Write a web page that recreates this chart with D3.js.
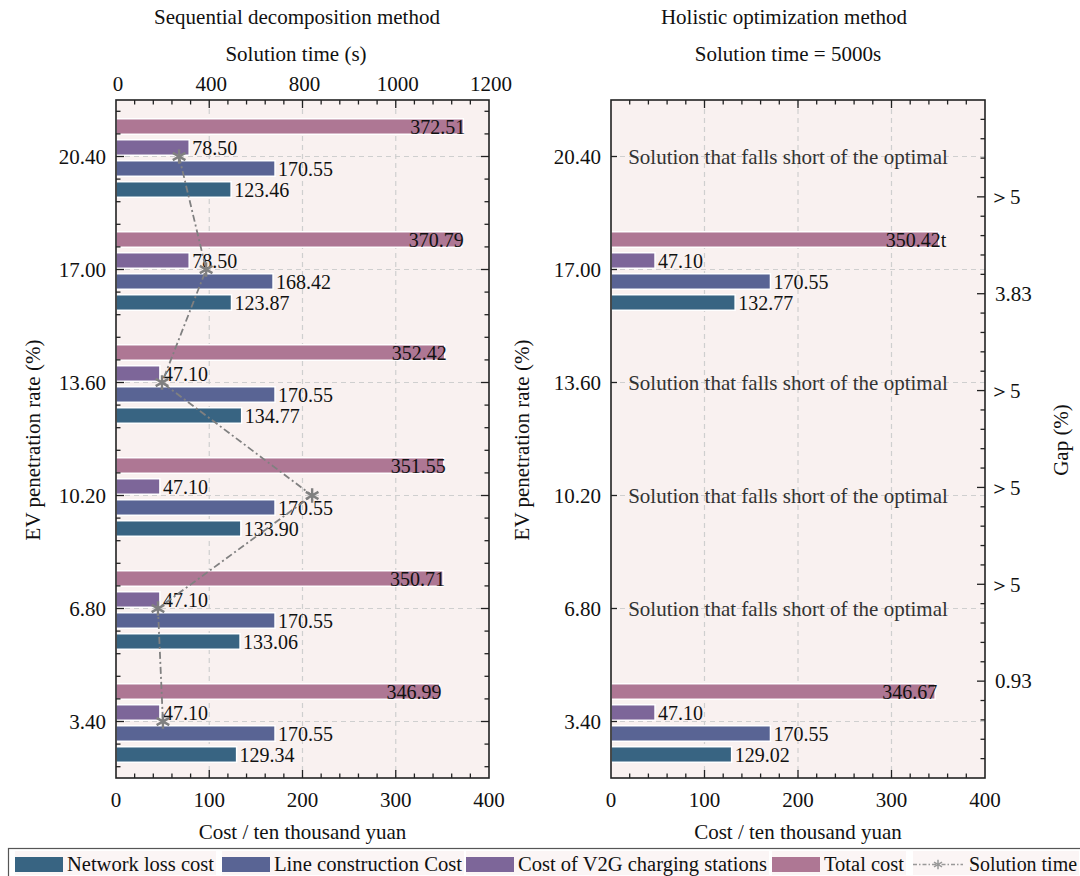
<!DOCTYPE html>
<html>
<head>
<meta charset="utf-8">
<script src="https://cdn.jsdelivr.net/npm/d3@7"></script>
<style>
  body { margin: 0; background: #fff; }
  svg { display: block; font-family: "Liberation Serif", "Times New Roman", serif; }
</style>
</head>
<body>
<svg id="chart" width="1080" height="876"></svg>
<script>
// EV penetration rate categories (top to bottom)
const categories = ["20.40", "17.00", "13.60", "10.20", "6.80", "3.40"];
const series = ["Total cost", "Cost of V2G charging stations", "Line construction Cost", "Network loss cost"];
const seriesColors = ["#ae7794", "#7d6699", "#596494", "#386482"];

// Sequential decomposition method (cost / ten thousand yuan)
const seqTotal   = [372.51, 370.79, 352.42, 351.55, 350.71, 346.99];
const seqV2G     = [78.50, 78.50, 47.10, 47.10, 47.10, 47.10];
const seqLine    = [170.55, 168.42, 170.55, 170.55, 170.55, 170.55];
const seqNetwork = [123.46, 123.87, 134.77, 133.90, 133.06, 129.34];
// Sequential decomposition solution time (s)
const seqTime    = [203, 290, 148, 631, 135, 151];

// Holistic optimization method: only two penetration rates reach a solution
const holCategories = ["17.00", "3.40"];
const holTotal   = [350.42, 346.67];
const holTotalSuffix = ["t", ""];
const holV2G     = [47.10, 47.10];
const holLine    = [170.55, 170.55];
const holNetwork = [132.77, 129.02];
const holShortCategories = ["20.40", "13.60", "10.20", "6.80"];
const holShortText = "Solution that falls short of the optimal";

// Gap axis (right panel)
const gapTickValues = [1, 2, 3, 4, 5, 6];
const gapTickLabels = ["0.93", "＞5", "＞5", "＞5", "3.83", "＞5"];

// Axis ticks
const costTicks = [0, 100, 200, 300, 400];
const timeTickValues = [0, 300, 600, 900, 1200];
const timeTickLabels = ["0", "400", "800", "1000", "1200"];

const svg = d3.select("#chart");
const plotTop = 100, plotBottom = 778;
const panels = [
  { x0: 116, x1: 489 },
  { x0: 611, x1: 985 }
];
const bg = "#f9f1f0", gridCol = "#cfcfcf", axisCol = "#222";

const y = d3.scaleBand().domain(categories).range([plotTop, plotBottom]).padding(0);
const yNum = d3.scaleLinear().domain([1.7, 22.1]).range([plotBottom, plotTop]);
const inner = d3.scaleBand().domain(series).range([16, 100]).paddingInner(0.26).paddingOuter(0.13);
const xL = d3.scaleLinear().domain([0, 400]).range([panels[0].x0, panels[0].x1]);
const xR = d3.scaleLinear().domain([0, 400]).range([panels[1].x0, panels[1].x1]);
const tScale = d3.scaleLinear().domain([0, 1200]).range([panels[0].x0, panels[0].x1]);
const gapScale = d3.scaleLinear().domain([0, 7]).range([plotBottom, plotTop]);

const cy = c => y(c) + y.bandwidth() / 2;
const minorCost = d3.range(0, 401, 20).filter(v => v % 100 !== 0);
const majorY = categories.map(Number);
const minorY = d3.range(2.04, 22.1, 0.68).filter(v => !majorY.some(m => Math.abs(m - v) < 0.01));

function panelBase(x) {
  const g = svg.append("g");
  g.append("rect").attr("x", x.range()[0]).attr("y", plotTop)
    .attr("width", x.range()[1] - x.range()[0]).attr("height", plotBottom - plotTop).attr("fill", bg);
  // grid
  g.selectAll(".gx").data([100, 200, 300]).join("line")
    .attr("x1", d => x(d)).attr("x2", d => x(d)).attr("y1", plotTop).attr("y2", plotBottom)
    .attr("stroke", gridCol).attr("stroke-width", 1.2).attr("stroke-dasharray", "5,4");
  g.selectAll(".gy").data(categories).join("line")
    .attr("x1", x.range()[0]).attr("x2", x.range()[1]).attr("y1", d => cy(d)).attr("y2", d => cy(d))
    .attr("stroke", gridCol).attr("stroke-width", 1.2).attr("stroke-dasharray", "5,4");
  return g;
}

function panelFrame(x, opts) {
  const g = svg.append("g");
  const [a, b] = x.range();
  // top and bottom ticks (inward)
  [[plotBottom, -1], [plotTop, 1]].forEach(([yy, dir]) => {
    g.selectAll(null).data([100, 200, 300]).join("line")
      .attr("x1", d => x(d)).attr("x2", d => x(d)).attr("y1", yy).attr("y2", yy + dir * 8)
      .attr("stroke", axisCol).attr("stroke-width", 1.3);
    g.selectAll(null).data(minorCost).join("line")
      .attr("x1", d => x(d)).attr("x2", d => x(d)).attr("y1", yy).attr("y2", yy + dir * 4.5)
      .attr("stroke", axisCol).attr("stroke-width", 1.3);
  });
  // left ticks
  g.selectAll(null).data(majorY).join("line")
    .attr("x1", a).attr("x2", a + (opts.leftMinor ? 8 : 6)).attr("y1", d => yNum(d)).attr("y2", d => yNum(d))
    .attr("stroke", axisCol).attr("stroke-width", 1.3);
  if (opts.leftMinor) {
    g.selectAll(null).data(minorY).join("line")
      .attr("x1", a).attr("x2", a + 4.5).attr("y1", d => yNum(d)).attr("y2", d => yNum(d))
      .attr("stroke", axisCol).attr("stroke-width", 1.3);
    // mirrored right ticks
    g.selectAll(null).data(majorY).join("line")
      .attr("x1", b).attr("x2", b - 8).attr("y1", d => yNum(d)).attr("y2", d => yNum(d))
      .attr("stroke", axisCol).attr("stroke-width", 1.3);
    g.selectAll(null).data(minorY).join("line")
      .attr("x1", b).attr("x2", b - 4.5).attr("y1", d => yNum(d)).attr("y2", d => yNum(d))
      .attr("stroke", axisCol).attr("stroke-width", 1.3);
  }
  g.append("rect").attr("x", a).attr("y", plotTop).attr("width", b - a).attr("height", plotBottom - plotTop)
    .attr("fill", "none").attr("stroke", axisCol).attr("stroke-width", 1.6);
  // left tick labels
  g.selectAll(null).data(categories).join("text")
    .attr("x", a - 10).attr("y", d => cy(d)).attr("dy", "0.35em").attr("text-anchor", "end")
    .attr("font-size", 21).attr("fill", "#111").text(d => d);
  // bottom tick labels
  g.selectAll(null).data(costTicks).join("text")
    .attr("x", d => x(d)).attr("y", 807).attr("text-anchor", "middle")
    .attr("font-size", 21).attr("fill", "#111").text(d => d);
  g.append("text").attr("x", (a + b) / 2).attr("y", 839).attr("text-anchor", "middle")
    .attr("font-size", 21).attr("fill", "#111").text("Cost / ten thousand yuan");
  g.append("text").attr("transform", `translate(${opts.yTitleX},440) rotate(-90)`)
    .attr("text-anchor", "middle").attr("font-size", 21).attr("fill", "#111")
    .text("EV penetration rate (%)");
  return g;
}

function drawBars(g, x, cats, cols) {
  const rows = cats.map((c, i) => ({ c, vals: cols.map(col => col[i]) }));
  const grp = g.selectAll(null).data(rows).join("g").attr("transform", d => `translate(0,${y(d.c)})`);
  grp.selectAll("rect").data(d => d.vals.map((v, k) => ({ v, k }))).join("rect")
    .attr("x", x(0)).attr("y", d => inner(series[d.k]))
    .attr("width", d => x(d.v) - x(0)).attr("height", inner.bandwidth())
    .attr("fill", d => seriesColors[d.k]).attr("stroke", "#fff").attr("stroke-width", 1.5);
  return grp;
}

function drawLabels(grp, x, suffixes) {
  grp.selectAll("text.val").data(d => d.vals.map((v, k) => ({ v, k }))).join("text")
    .attr("class", "val")
    .attr("x", d => d.k === 0 ? x(d.v) + 2 : x(d.v) + 3)
    .attr("y", d => inner(series[d.k]) + inner.bandwidth() / 2)
    .attr("dy", "0.36em")
    .attr("text-anchor", d => d.k === 0 ? "end" : "start")
    .attr("font-size", 20).attr("fill", "#111")
    .text(d => d.v.toFixed(2));
  if (suffixes) {
    grp.selectAll("text.suf").data((d, i) => [{ v: d.vals[0], s: suffixes[i] }]).join("text")
      .attr("class", "suf")
      .attr("x", d => x(d.v) + 2).attr("y", inner(series[0]) + inner.bandwidth() / 2)
      .attr("dy", "0.36em").attr("font-size", 20).attr("fill", "#111").text(d => d.s);
  }
}

// ---------- Left panel: sequential decomposition ----------
const gL = panelBase(xL);
const grpL = drawBars(gL, xL, categories, [seqTotal, seqV2G, seqLine, seqNetwork]);

const timePts = categories.map((c, i) => [tScale(seqTime[i]), cy(c)]);
gL.append("path").attr("d", d3.line()(timePts)).attr("fill", "none")
  .attr("stroke", "#808080").attr("stroke-width", 1.8).attr("stroke-dasharray", "7,3,2,3");

drawLabels(grpL, xL);

gL.selectAll(".mk").data(timePts).join("path")
  .attr("transform", d => `translate(${d[0]},${d[1]})`)
  .attr("d", d3.symbol(d3.symbolAsterisk, 150))
  .attr("fill", "none").attr("stroke", "#808080").attr("stroke-width", 2.4);

panelFrame(xL, { leftMinor: true, yTitleX: 40 });

// top time axis
const gT = svg.append("g");
gT.selectAll(null).data(timeTickValues).join("text")
  .attr("x", d => tScale(d) + 2).attr("y", 91).attr("text-anchor", "middle")
  .attr("font-size", 21).attr("fill", "#111").text((d, i) => timeTickLabels[i]);
gT.append("text").attr("x", 296).attr("y", 61).attr("text-anchor", "middle")
  .attr("font-size", 21).attr("fill", "#111").text("Solution time (s)");
gT.append("text").attr("x", 297).attr("y", 24).attr("text-anchor", "middle")
  .attr("font-size", 21).attr("fill", "#111").text("Sequential decomposition method");

// ---------- Right panel: holistic optimization ----------
const gR = panelBase(xR);
const grpR = drawBars(gR, xR, holCategories, [holTotal, holV2G, holLine, holNetwork]);
drawLabels(grpR, xR, holTotalSuffix);

gR.selectAll(".short").data(holShortCategories).join("text")
  .attr("x", 788).attr("y", d => cy(d)).attr("dy", "0.35em")
  .attr("text-anchor", "middle").attr("font-size", 21).attr("fill", "#333")
  .text(holShortText);

panelFrame(xR, { leftMinor: false, yTitleX: 529 });

// gap axis (right side, inward ticks)
const gG = svg.append("g");
gG.selectAll(null).data(gapTickValues).join("line")
  .attr("x1", xR(400)).attr("x2", xR(400) - 8).attr("y1", d => gapScale(d)).attr("y2", d => gapScale(d))
  .attr("stroke", axisCol).attr("stroke-width", 1.3);
gG.selectAll(null).data(d3.range(0.2, 7, 0.2).filter(v => Math.abs(v - Math.round(v)) > 0.01)).join("line")
  .attr("x1", xR(400)).attr("x2", xR(400) - 4.5).attr("y1", d => gapScale(d)).attr("y2", d => gapScale(d))
  .attr("stroke", axisCol).attr("stroke-width", 1.3);
gG.selectAll(null).data(gapTickValues).join("text")
  .attr("x", d => xR(400) + (gapTickLabels[d - 1].startsWith("＞") ? 4 : 10)).attr("y", d => gapScale(d))
  .attr("dy", "0.35em").attr("font-size", 21).attr("fill", "#111").text(d => gapTickLabels[d - 1]);
gG.append("text").attr("transform", "translate(1068,440) rotate(-90)")
  .attr("text-anchor", "middle").attr("font-size", 21).attr("fill", "#111").text("Gap (%)");

gG.append("text").attr("x", 784).attr("y", 24).attr("text-anchor", "middle")
  .attr("font-size", 21).attr("fill", "#111").text("Holistic optimization method");
gG.append("text").attr("x", 788).attr("y", 61).attr("text-anchor", "middle")
  .attr("font-size", 21).attr("fill", "#111").text("Solution time = 5000s");

// ---------- Legend ----------
const leg = svg.append("g");
leg.append("rect").attr("x", 8.5).attr("y", 848.5).attr("width", 1090).attr("height", 40)
  .attr("fill", "#fff").attr("stroke", "#555").attr("stroke-width", 1.2);
const legendItems = series.slice().reverse().map((s, i) => ({ label: s, color: seriesColors[3 - i], type: "bar" }))
  .concat([{ label: "Solution time", type: "line" }]);
// entry start positions and text widths along the legend row
const legendX = [15, 222, 466, 772, 913];
const legendTextW = [147, 188, 249, 80, 108];
legendItems.forEach((it, i) => {
  const g = leg.append("g");
  let lx = legendX[i];
  const start = lx;
  const bgRect = g.append("rect").attr("y", 851).attr("height", 24).attr("fill", "#fbf5f5");
  if (it.type === "bar") {
    g.append("rect").attr("x", lx).attr("y", 857).attr("width", 48).attr("height", 15).attr("fill", it.color);
    lx += 52;
  } else {
    g.append("line").attr("x1", lx).attr("x2", lx + 50).attr("y1", 864.5).attr("y2", 864.5)
      .attr("stroke", "#999").attr("stroke-width", 1.3).attr("stroke-dasharray", "4,2,1.5,2");
    g.append("path").attr("transform", `translate(${lx + 25},864.5)`)
      .attr("d", d3.symbol(d3.symbolAsterisk, 60)).attr("fill", "none").attr("stroke", "#999").attr("stroke-width", 1.5);
    lx += 56;
  }
  g.append("text").attr("x", lx).attr("y", 871).attr("font-size", 20.5).attr("fill", "#111")
    .attr("textLength", legendTextW[i]).attr("lengthAdjust", "spacingAndGlyphs").text(it.label);
  bgRect.attr("x", start).attr("width", lx + legendTextW[i] - start + 2);
});
</script>
</body>
</html>
